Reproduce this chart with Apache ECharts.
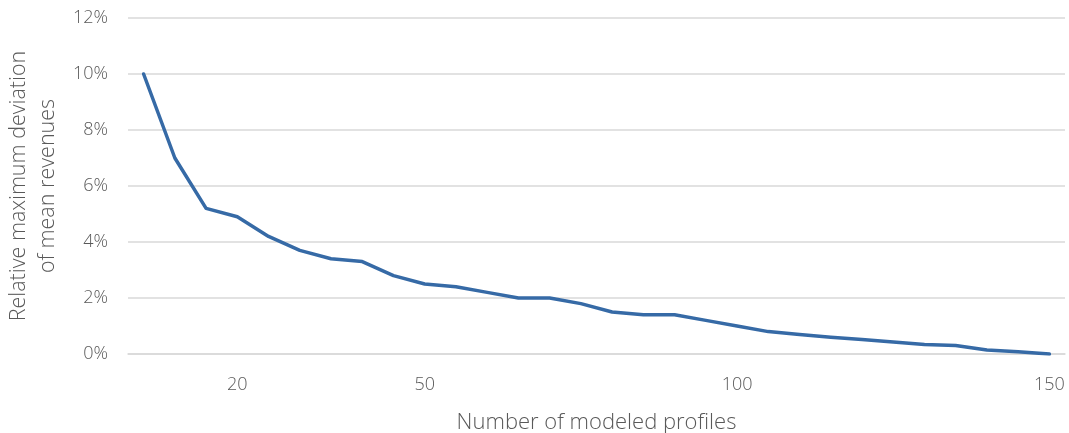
<!DOCTYPE html>
<html>
<head>
<meta charset="utf-8">
<script src="https://cdn.jsdelivr.net/npm/echarts@6/dist/echarts.min.js"></script>
<style>
  html, body { margin: 0; padding: 0; background: #fff; }
  #chartmain { width: 1069px; height: 433px; }
</style>
</head>
<body>
<div id="chartmain"></div>
<script>
// number of modeled profiles (x categories)
var profiles = [5, 10, 15, 20, 25, 30, 35, 40, 45, 50, 55, 60, 65, 70, 75,
                80, 85, 90, 95, 100, 105, 110, 115, 120, 125, 130, 135, 140, 145, 150];
// relative max deviation, in %
var deviation = [10.0, 7.0, 5.2, 4.9, 4.2, 3.7, 3.4, 3.3, 2.8, 2.5, 2.4, 2.2, 2.0, 2.0, 1.8,
                 1.5, 1.4, 1.4, 1.2, 1.0, 0.8, 0.7, 0.6, 0.52, 0.43, 0.34, 0.3, 0.14, 0.08, 0.0];
// which x labels are shown
var shownLabels = ['20', '50', '100', '150'];
var yTicks = [0, 2, 4, 6, 8, 10, 12];

window.onload = function () {
  var textColor = '#595959';
  var fontFam = '"Open Sans", "Noto Sans", sans-serif';

  var option = {
    animation: false,
    grid: { left: 128, right: 4, top: 18, bottom: 79, outerBoundsMode: 'none', containLabel: false },
    xAxis: {
      type: 'category',
      data: profiles.map(String),
      boundaryGap: true,
      name: 'Number of modeled profiles',
      nameLocation: 'middle',
      nameGap: 58,
      nameTextStyle: { color: textColor, fontSize: 22, fontFamily: fontFam, fontWeight: 300 },
      axisLine: { show: true, lineStyle: { color: '#d9d9d9', width: 1.5 } },
      axisTick: { show: false },
      axisLabel: {
        color: textColor, fontSize: 18, fontFamily: fontFam, fontWeight: 300, margin: 22,
        interval: function (idx, val) { return shownLabels.indexOf(val) >= 0; }
      }
    },
    yAxis: {
      type: 'value',
      min: yTicks[0],
      max: yTicks[yTicks.length - 1],
      interval: 2,
      name: 'Relative maximum deviation\nof mean revenues',
      nameLocation: 'middle',
      nameRotate: 90,
      nameGap: 60,
      nameTextStyle: { color: textColor, fontSize: 21.5, fontFamily: fontFam, fontWeight: 300, lineHeight: 29 },
      axisLine: { show: false },
      axisTick: { show: false },
      axisLabel: {
        color: textColor, fontSize: 18, fontFamily: fontFam, fontWeight: 300, margin: 20,
        formatter: '{value}%'
      },
      splitLine: { lineStyle: { color: '#d9d9d9', width: 1.5 } }
    },
    series: [{
      type: 'line',
      data: deviation,
      symbol: 'none',
      lineStyle: { color: '#366aa6', width: 3.5, cap: 'round', join: 'round' }
    }]
  };

  var myChart = echarts.init(document.getElementById('chartmain'));
  myChart.setOption(option);
};
</script>
</body>
</html>
